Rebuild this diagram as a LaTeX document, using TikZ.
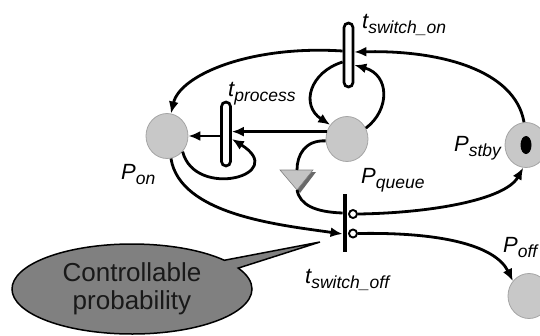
\documentclass[tikz,border=0pt]{standalone}
\usepackage{fontspec}
\setmainfont{Liberation Sans}
\usetikzlibrary{arrows.meta,shapes.geometric,shapes.callouts}
\definecolor{placegray}{RGB}{200,200,200}
\definecolor{placeedge}{RGB}{165,165,165}
\definecolor{calloutgray}{RGB}{128,128,128}
\definecolor{shadowgray}{RGB}{105,105,105}
\definecolor{queuegray}{RGB}{196,196,196}
% label with a lowered italic subscript
\newcommand{\pnlabel}[2]{{\fontsize{22}{22}\selectfont\itshape #1}\raisebox{-5pt}{\fontsize{17.5}{17.5}\selectfont\itshape #2}}
\begin{document}
\begin{tikzpicture}[x=1pt,y=-1pt,
  place/.style={ellipse, draw=placeedge, line width=0.8pt, fill=placegray,
    minimum width=42pt, minimum height=45pt, inner sep=0pt},
  timed/.style={rectangle, rounded corners=4.5pt, draw, line width=2.7pt, fill=white,
    minimum width=9pt, minimum height=64pt, inner sep=0pt},
  bar/.style={rectangle, fill=black, minimum width=4.5pt, minimum height=58pt, inner sep=0pt},
  inhib/.style={circle, draw, line width=1.9pt, fill=white, minimum size=8pt, inner sep=0pt},
  arc/.style={line width=2.8pt},
  arr/.style={arc, -{Latex[length=12pt,width=10pt]}},
  lbl/.style={anchor=base west, inner sep=0pt}]
\useasboundingbox (0,0) rectangle (540,335);

% places
\node[place] (pon) at (167,136) {};
\node[place] (pq) at (347,139) {};
\node[place] (pstby) at (526,145) {};
\node[place] (poff) at (529,296) {};
\fill[black] (pstby.center) ellipse [x radius=5.5pt, y radius=9pt];

% transitions
\node[timed] (ton) at (348.5,55) {};
\node[timed] (tp) at (226,134) {};
\node[bar] (tsoff) at (345,223) {};
\node[inhib] (c1) at (353,214) {};
\node[inhib] (c2) at (353,233.5) {};

% queue symbol
\coordinate (trtop) at (297,170);
\coordinate (trapex) at (297,190);
\fill[shadowgray] (283,172) -- (316,172) -- (300,193) -- cycle;
\filldraw[fill=queuegray, draw=gray, line width=0.6pt] (280,170) -- (313,170) -- (trapex) -- cycle;

% arcs
\draw[arr] (pstby.95) .. controls (515,70) and (440,50) .. ([yshift=3pt]ton.east);
\draw[arr] ([yshift=4pt]ton.west) .. controls (250,45) and (180,75) .. (pon.80);
\draw[arr] ([yshift=-7pt]ton.west) .. controls (310,72) and (300,105) .. (pq.140);
\draw[arr] (pq.30) .. controls (390,110) and (390,75) .. ([yshift=-10pt]ton.east);
\draw[arr] (pq.160) -- (pq.160 -| tp.east);
\draw[arr] (tp.west |- pon.east) -- (pon.east);
\draw[arr] (pon.-45) .. controls (195,200) and (290,175) .. ([yshift=-5pt]tp.east);
\draw[arc] (pq.185) .. controls (305,140) and (297,155) .. (trtop);
\draw[arc] (trapex) .. controls (300,205) and (315,212) .. ([yshift=10pt]tsoff.west);
\draw[arr] (pon.-80) .. controls (180,215) and (280,225) .. ([yshift=-11pt]tsoff.west);
\draw[arr] (c1.east) .. controls (430,213) and (505,200) .. (pstby.-97);
\draw[arr] (c2.east) .. controls (440,232) and (495,245) .. (poff.137);

% labels
\node[lbl] (lton) at (362,28) {\pnlabel{t}{switch\_on}};
\node[lbl] (ltp) at (228,96) {\pnlabel{t}{process}};
\node[lbl] (lpon) at (121,179) {\pnlabel{P}{on}};
\node[lbl] (lpq) at (361,183) {\pnlabel{P}{queue}};
\node[lbl] (lpstby) at (454,151) {\pnlabel{P}{stby}};
\node[lbl] (lpoff) at (503,252) {\pnlabel{P}{off}};
\node[lbl] (ltsoff) at (305,283) {\pnlabel{t}{switch\_off}};

% callout
\coordinate (tip) at (320,242);
\node[ellipse callout, draw=black, line width=1.5pt, fill=calloutgray,
  minimum width=240pt, minimum height=90pt, callout absolute pointer={(tip)},
  callout pointer arc=12, align=center, text=black!90,
  font=\fontsize{26}{28}\selectfont] (note) at (132,289) {Controllable\\probability};
\end{tikzpicture}
\end{document}
